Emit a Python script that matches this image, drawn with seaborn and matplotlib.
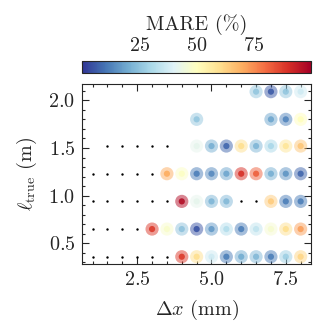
import numpy as np
import pandas as pd
import matplotlib
matplotlib.use('Agg')
import matplotlib.pyplot as plt
import seaborn as sns
from matplotlib.ticker import MultipleLocator, AutoMinorLocator

# grid spacing (mm) and true lengths (m)
dx = [1.0, 1.5, 2.0, 2.5, 3.0, 3.5, 4.0, 4.5, 5.0, 5.5, 6.0, 6.5, 7.0, 7.5, 8.0]
l_true = [0.36, 0.65, 0.94, 1.23, 1.52, 1.80, 2.09]

# MARE (%) per row of l_true; nan = failed run (black dot), None = not run
N = np.nan
mare = [
    [N, N, N, N, N, N, 88, 60, 37, 12, 20, 23, 12, 28, 62],
    [N, N, N, N, 88, 48, 25, 5, 17, 32, 12, 34, 47, 60, 72],
    [N, N, N, N, N, N, 97, 42, 22, 23, N, N, 64, 12, 12],
    [N, N, N, N, N, 70, 49, 12, 14, 19, 90, 82, 21, 16, 8],
    [None, N, N, N, N, N, None, 42, 21, 8, 60, 22, 30, 58, 65],
    [None, None, None, None, None, None, None, 26, None, None, None, None, 19, 13, 50],
    [None, None, None, None, None, None, None, None, None, None, None, 26, 6, 26, 37],
]

rows = []
for l, vals in zip(l_true, mare):
    for x, v in zip(dx, vals):
        if v is None:
            continue
        rows.append({'dx': x, 'l': l, 'mare': v})
df = pd.DataFrame(rows)
ok = df.dropna(subset=['mare'])
bad = df[df['mare'].isna()]

sns.set_style('ticks')
plt.rcParams['font.family'] = 'serif'
plt.rcParams['font.serif'] = ['cmr10', 'DejaVu Serif']
plt.rcParams['mathtext.fontset'] = 'cm'
plt.rcParams['axes.formatter.use_mathtext'] = True
plt.rcParams['font.size'] = 14.5

cmap = 'RdYlBu_r'
norm = (0, 100)

fig = plt.figure(figsize=(3.2, 3.22), dpi=100)
ax = fig.add_axes([0.257, 0.179, 0.715, 0.560])

sns.scatterplot(data=ok, x='dx', y='l', hue='mare', palette=cmap, hue_norm=norm,
                s=90, alpha=0.5, linewidth=0, legend=False, ax=ax)
sns.scatterplot(data=ok, x='dx', y='l', hue='mare', palette=cmap, hue_norm=norm,
                s=20, alpha=0.9, linewidth=0, legend=False, ax=ax)
sns.scatterplot(data=bad, x='dx', y='l', color='black', s=3, linewidth=0,
                legend=False, ax=ax)

ax.set_xlim(0.65, 8.35)
ax.set_ylim(0.28, 2.17)
ax.xaxis.set_major_locator(MultipleLocator(2.5))
ax.xaxis.set_minor_locator(AutoMinorLocator(5))
ax.yaxis.set_major_locator(MultipleLocator(0.5))
ax.yaxis.set_minor_locator(AutoMinorLocator(5))
ax.tick_params(which='both', direction='in', top=True, right=True, width=0.8)
ax.tick_params(which='major', length=5, pad=5)
ax.tick_params(which='minor', length=2.5)
ax.set_xlabel(r'$\Delta x$ (mm)', labelpad=6)
ax.set_ylabel(r'$\ell_{\rm true}$ (m)', labelpad=7)

cax = fig.add_axes([0.257, 0.773, 0.715, 0.038])
sm = plt.cm.ScalarMappable(cmap=cmap, norm=plt.Normalize(*norm))
cb = fig.colorbar(sm, cax=cax, orientation='horizontal')
cax.xaxis.set_ticks_position('top')
cax.xaxis.set_label_position('top')
cb.set_ticks([25, 50, 75])
cax.xaxis.set_minor_locator(MultipleLocator(5))
cax.tick_params(which='both', direction='in', top=True, bottom=False, width=0.8)
cax.tick_params(which='major', length=5, pad=4)
cax.tick_params(which='minor', length=2.5)
cb.set_label('MARE (%)', labelpad=5)

fig.savefig('out.png', dpi=100)
